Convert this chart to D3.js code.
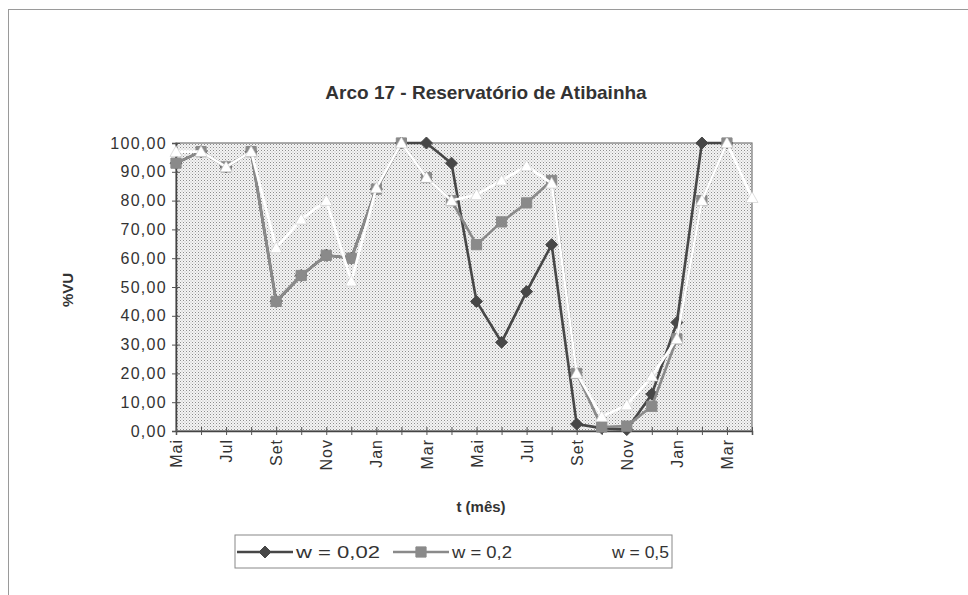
<!DOCTYPE html>
<html>
<head>
<meta charset="utf-8">
<script src="https://cdn.jsdelivr.net/npm/d3@7"></script>
<style>
    body { margin: 0; background: #fff; }
    svg { font-family: "Liberation Sans", Arial, sans-serif; }
</style>
</head>
<body>
<div id="chart"></div>
<script>
// months along the x axis, one per category
var months = ["Mai", "Jun", "Jul", "Ago", "Set", "Out", "Nov", "Dez", "Jan", "Fev", "Mar", "Abr",
              "Mai", "Jun", "Jul", "Ago", "Set", "Out", "Nov", "Dez", "Jan", "Fev", "Mar", "Abr"];

// %VU
var w002 = [93, 97, 91.7, 97, 45, 54, 61, 60, 84, 100, 100, 93,
            45, 30.8, 48.4, 64.7, 2.4, 1, 0.5, 12.8, 37.7, 100, 100, null];
var w02 = [93, 97, 91.7, 97, 45, 54, 61, 60, 84, 100, 88, 80,
           64.7, 72.6, 79.2, 87, 20, 1.4, 1.7, 8.6, 32, 80, 100, null];
var w05 = [97, 97, 91.7, 97, 63.6, 73.5, 80, 52, 84.4, 100, 88, 80,
           82, 87, 92, 86, 20, 5, 9, 19, 32, 80, 100, 81];

var yTicks = [0, 10, 20, 30, 40, 50, 60, 70, 80, 90, 100];

var series = [
    { name: "w = 0,02", values: w002, color: "#474747", marker: "diamond" },
    { name: "w = 0,2", values: w02, color: "#8a8a8a", marker: "square" },
    { name: "w = 0,5", values: w05, color: "#ffffff", marker: "triangle" }
];

var W = 968, H = 595;
var plot = { left: 176, right: 752, top: 143, bottom: 431 };

var svg = d3.select("#chart").append("svg")
    .attr("width", W)
    .attr("height", H);

// dotted fill of the plot area
var pat = svg.append("defs").append("pattern")
    .attr("id", "dots")
    .attr("width", 3)
    .attr("height", 3)
    .attr("patternUnits", "userSpaceOnUse");
pat.append("rect").attr("width", 3).attr("height", 3).attr("fill", "#f4f4f4");
pat.append("rect").attr("x", 0).attr("y", 0).attr("width", 1).attr("height", 1).attr("fill", "#8c8c8c");
pat.append("rect").attr("x", 1.5).attr("y", 1.5).attr("width", 1).attr("height", 1).attr("fill", "#b4b4b4");

// outer chart frame (runs off the page on right and bottom)
svg.append("rect")
    .attr("x", 8.5).attr("y", 9.5)
    .attr("width", W + 20).attr("height", H + 20)
    .attr("fill", "none")
    .attr("stroke", "#9a9a9a")
    .attr("stroke-width", 1);

var x = d3.scaleLinear()
    .domain([0, months.length - 1])
    .range([plot.left, plot.right]);

var y = d3.scaleLinear()
    .domain([0, 100])
    .range([plot.bottom, plot.top]);

svg.append("rect")
    .attr("x", plot.left).attr("y", plot.top)
    .attr("width", plot.right - plot.left)
    .attr("height", plot.bottom - plot.top)
    .attr("fill", "url(#dots)")
    .attr("stroke", "#777")
    .attr("stroke-width", 1.2);

// y axis, ticks cross the line
var yAxis = svg.append("g")
    .attr("transform", "translate(" + plot.left + ",0)")
    .call(d3.axisLeft(y)
        .tickValues(yTicks)
        .tickSize(4)
        .tickFormat(function(d) { return d.toFixed(2).replace(".", ","); }));
yAxis.select(".domain").attr("stroke", "#444").attr("stroke-width", 1.5);
yAxis.selectAll(".tick line").attr("stroke", "#555").attr("x2", -4).attr("x1", 4);
yAxis.selectAll(".tick text")
    .attr("x", -9)
    .attr("fill", "#333")
    .style("font-size", "16px")
    .style("letter-spacing", "1.3px");

// x axis, one tick per month, label every other month
var xAxis = svg.append("g")
    .attr("transform", "translate(0," + plot.bottom + ")")
    .call(d3.axisBottom(x)
        .tickValues(d3.range(months.length))
        .tickSize(4)
        .tickFormat(function(d) { return d % 2 === 0 ? months[d] : ""; }));
xAxis.select(".domain").attr("stroke", "#444").attr("stroke-width", 1.5);
xAxis.selectAll(".tick line").attr("stroke", "#555").attr("y1", -4).attr("y2", 4);
xAxis.selectAll(".tick text")
    .attr("transform", "rotate(-90)")
    .attr("text-anchor", "end")
    .attr("x", -8)
    .attr("y", 0)
    .attr("dy", "0.35em")
    .attr("fill", "#333")
    .style("font-size", "16px")
    .style("letter-spacing", "1px");

function markerPath(type, s) {
    if (type === "diamond") {
        return "M0," + (-s) + "L" + s + ",0L0," + s + "L" + (-s) + ",0Z";
    } else if (type === "square") {
        var h = s * 0.85;
        return "M" + (-h) + "," + (-h) + "H" + h + "V" + h + "H" + (-h) + "Z";
    }
    return "M0," + (-s) + "L" + s + "," + (s * 0.8) + "L" + (-s) + "," + (s * 0.8) + "Z";
}

var line = d3.line()
    .defined(function(d) { return d != null; })
    .x(function(d, i) { return x(i); })
    .y(function(d) { return y(d); });

var seriesG = svg.append("g");
series.forEach(function(s) {
    var g = seriesG.append("g");
    g.append("path")
        .datum(s.values)
        .attr("d", line)
        .attr("fill", "none")
        .attr("stroke", s.color)
        .attr("stroke-width", 2.6);
    g.selectAll("path.mk")
        .data(s.values.map(function(v, i) { return { v: v, i: i }; })
            .filter(function(d) { return d.v != null; }))
      .enter().append("path")
        .attr("class", "mk")
        .attr("transform", function(d) { return "translate(" + x(d.i) + "," + y(d.v) + ")"; })
        .attr("d", markerPath(s.marker, 6))
        .attr("fill", s.color)
        .attr("stroke", s.marker === "triangle" ? "#c8c8c8" : s.color)
        .attr("stroke-width", s.marker === "triangle" ? 0.6 : 1);
});

// titles
svg.append("text")
    .attr("x", 486).attr("y", 99)
    .attr("text-anchor", "middle")
    .attr("font-weight", "bold")
    .attr("fill", "#333")
    .style("font-size", "19px")
    .text("Arco 17 - Reservatório de Atibainha");

svg.append("text")
    .attr("transform", "translate(73,290) rotate(-90)")
    .attr("text-anchor", "middle")
    .attr("font-weight", "bold")
    .attr("fill", "#333")
    .style("font-size", "15px")
    .text("%VU");

svg.append("text")
    .attr("x", 481).attr("y", 512)
    .attr("text-anchor", "middle")
    .attr("font-weight", "bold")
    .attr("fill", "#333")
    .style("font-size", "15px")
    .text("t (mês)");

// legend
var legend = svg.append("g").attr("transform", "translate(235,535)");
legend.append("rect")
    .attr("width", 437).attr("height", 33)
    .attr("fill", "#fff")
    .attr("stroke", "#888");
var legendX = [2, 158, 318];
var legendTextW = [84, 60, 57];
series.forEach(function(s, i) {
    var item = legend.append("g").attr("transform", "translate(" + legendX[i] + ",17)");
    item.append("line")
        .attr("x1", 0).attr("x2", 56)
        .attr("stroke", s.color)
        .attr("stroke-width", 2.4);
    item.append("path")
        .attr("transform", "translate(28,0)")
        .attr("d", markerPath(s.marker, 6))
        .attr("fill", s.color)
        .attr("stroke", s.color);
    item.append("text")
        .attr("x", 59).attr("y", 6)
        .attr("fill", "#333")
        .attr("textLength", legendTextW[i])
        .attr("lengthAdjust", "spacingAndGlyphs")
        .style("font-size", "17px")
        .text(s.name);
});
</script>
</body>
</html>
